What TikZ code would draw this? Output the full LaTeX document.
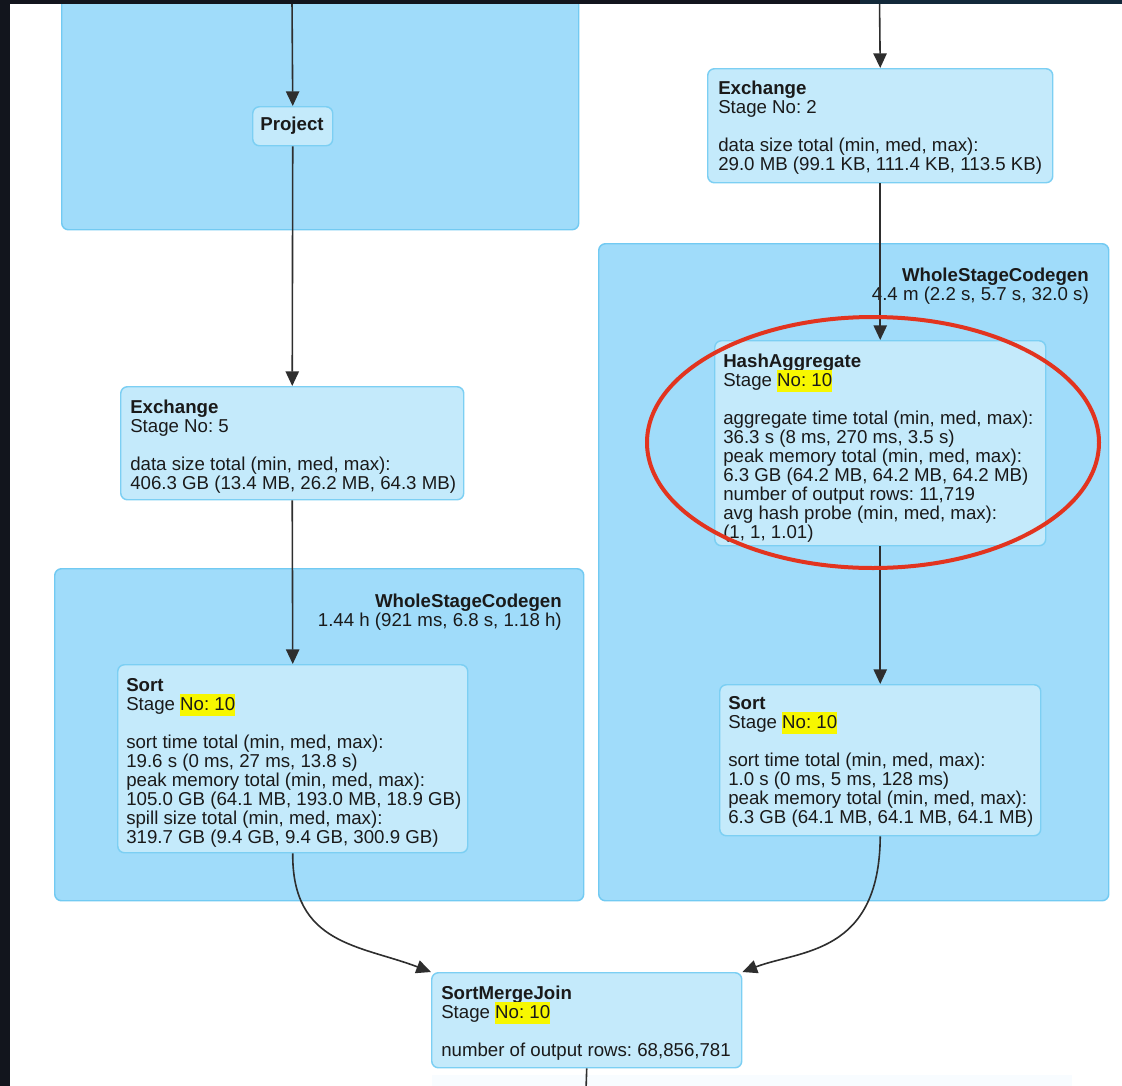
\documentclass[tikz,border=0pt]{standalone}
\usepackage{fontspec}
\setmainfont{Liberation Sans}
\usetikzlibrary{arrows.meta}
\definecolor{clfill}{HTML}{A0DCFA}
\definecolor{clline}{HTML}{72CAF2}
\definecolor{ndfill}{HTML}{C4EAFB}
\definecolor{ndline}{HTML}{7CCFF3}
\definecolor{hl}{HTML}{F7F700}
\definecolor{ink}{HTML}{1A1A1A}
\definecolor{edgecol}{HTML}{2E2E2E}
\definecolor{ring}{HTML}{E2341F}
\definecolor{framecol}{HTML}{12151D}
\definecolor{framecolb}{HTML}{12293A}
\definecolor{faint}{HTML}{F8FCFF}
\newcommand{\hlt}[1]{{\setlength{\fboxsep}{0pt}\colorbox{hl}{\rule[-4.5pt]{0pt}{16.5pt}#1}}}
\newcommand{\fl}{\rule{0pt}{10.5pt}}
\newcommand{\tfont}{\fontsize{14pt}{14.25pt}\selectfont}
\global\lineskiplimit=-100pt
\frenchspacing
\begin{document}
\frenchspacing
\begin{tikzpicture}[x=0.75pt,y=-0.75pt,
 cluster/.style={draw=clline, fill=clfill, line width=1.1pt, rounded corners=5pt, inner sep=0pt, anchor=north west},
 opbox/.style={draw=ndline, fill=ndfill, line width=1.1pt, rounded corners=5pt, inner sep=0pt, anchor=north west},
 txt/.style={inner sep=0pt, anchor=north west, align=left, text=ink, font=\tfont},
 ttl/.style={inner sep=0pt, anchor=north east, align=right, text=ink, font=\tfont},
 flow/.style={draw=edgecol, line width=1.2pt, -{Triangle[length=11pt,width=10pt]}},
 plain/.style={draw=edgecol, line width=1.2pt}]
\useasboundingbox (0,0) rectangle (1122,1086);
\clip (0,0) rectangle (1122,1086);
\fill[white] (0,0) rectangle (1122,1086);
\fill[faint] (432,1075) rectangle (1072,1090);

% clusters
\node[cluster, minimum width=517*0.75pt, minimum height=249*0.75pt] (cl1) at (61,-20) {};
\node[cluster, minimum width=529*0.75pt, minimum height=332*0.75pt] (cl2) at (54,568) {};
\node[cluster, minimum width=510*0.75pt, minimum height=657*0.75pt] (cl3) at (598,243) {};
\node[ttl] (cl2t) at (562,593) {\fl\textbf{WholeStageCodegen}\\1.44 h (921 ms, 6.8 s, 1.18 h)};
\node[ttl] (cl3t) at (1089,267) {\fl\textbf{WholeStageCodegen}\\4.4 m (2.2 s, 5.7 s, 32.0 s)};

% operator boxes
\node[opbox, minimum width=80*0.75pt, minimum height=39*0.75pt] (project) at (252,106) {};
\node[inner sep=0pt, text=ink, font=\tfont\bfseries] (projectt) at (292,126) {Project};

\node[opbox, minimum width=345*0.75pt, minimum height=114*0.75pt] (ex2) at (707,68) {};
\node[txt] (ex2t) at (718,80) {\fl\textbf{Exchange}\\Stage No: 2\\[14.25pt]data size total (min, med, max):\\29.0 MB (99.1 KB, 111.4 KB, 113.5 KB)};

\node[opbox, minimum width=343*0.75pt, minimum height=113*0.75pt] (ex5) at (120,386) {};
\node[txt] (ex5t) at (130,399) {\fl\textbf{Exchange}\\Stage No: 5\\[14.25pt]data size total (min, med, max):\\406.3 GB (13.4 MB, 26.2 MB, 64.3 MB)};

\node[opbox, minimum width=350*0.75pt, minimum height=188*0.75pt] (sortL) at (117,664) {};
\node[txt] (sortLt) at (126,677) {\fl\textbf{Sort}\\Stage \hlt{No: 10}\\[14.25pt]sort time total (min, med, max):\\19.6 s (0 ms, 27 ms, 13.8 s)\\peak memory total (min, med, max):\\105.0 GB (64.1 MB, 193.0 MB, 18.9 GB)\\spill size total (min, med, max):\\319.7 GB (9.4 GB, 9.4 GB, 300.9 GB)};

\node[opbox, minimum width=331*0.75pt, minimum height=205*0.75pt] (hash) at (714,340) {};
\node[txt] (hasht) at (723,353) {\fl\textbf{HashAggregate}\\Stage \hlt{No: 10}\\[14.25pt]aggregate time total (min, med, max):\\36.3 s (8 ms, 270 ms, 3.5 s)\\peak memory total (min, med, max):\\6.3 GB (64.2 MB, 64.2 MB, 64.2 MB)\\number of output rows: 11,719\\avg hash probe (min, med, max):\\(1, 1, 1.01)};

\node[opbox, minimum width=321*0.75pt, minimum height=151*0.75pt] (sortR) at (719,684) {};
\node[txt] (sortRt) at (728,695) {\fl\textbf{Sort}\\Stage \hlt{No: 10}\\[14.25pt]sort time total (min, med, max):\\1.0 s (0 ms, 5 ms, 128 ms)\\peak memory total (min, med, max):\\6.3 GB (64.1 MB, 64.1 MB, 64.1 MB)};

\node[opbox, minimum width=310*0.75pt, minimum height=95*0.75pt] (smj) at (431,972) {};
\node[txt] (smjt) at (441,985) {\fl\textbf{SortMergeJoin}\\Stage \hlt{No: 10}\\[14.25pt]number of output rows: 68,856,781};

% free ends
\coordinate (topL) at (292,0);
\coordinate (topR) at (879.5,0);
\coordinate (botC) at (586,1090);

% connectors
\draw[flow] (topL) -- (project.north);
\draw[flow] (project.south) -- (ex5.north);
\draw[flow] (ex5.south) -- (sortL.north);
\draw[flow] (topR) -- (ex2.north);
\draw[flow] (ex2.south) -- (hash.north);
\draw[flow] (hash.south) -- (sortR.north);
\draw[flow] (sortL.south) .. controls (292,945) and (360,945) .. (smj.north west);
\draw[flow] (sortR.south) .. controls (879.5,955) and (800,950) .. (smj.north east);
\draw[plain] (smj.south) -- (botC);

% red highlight ring
\draw[ring, line width=3pt] (873,442.5) ellipse [x radius=226, y radius=125.5];

% screen frame
\fill[framecol] (0,0) rectangle (860,4);
\fill[framecolb] (860,0) rectangle (1122,4);
\fill[framecol] (0,0) rectangle (10,1086);
\end{tikzpicture}
\end{document}
